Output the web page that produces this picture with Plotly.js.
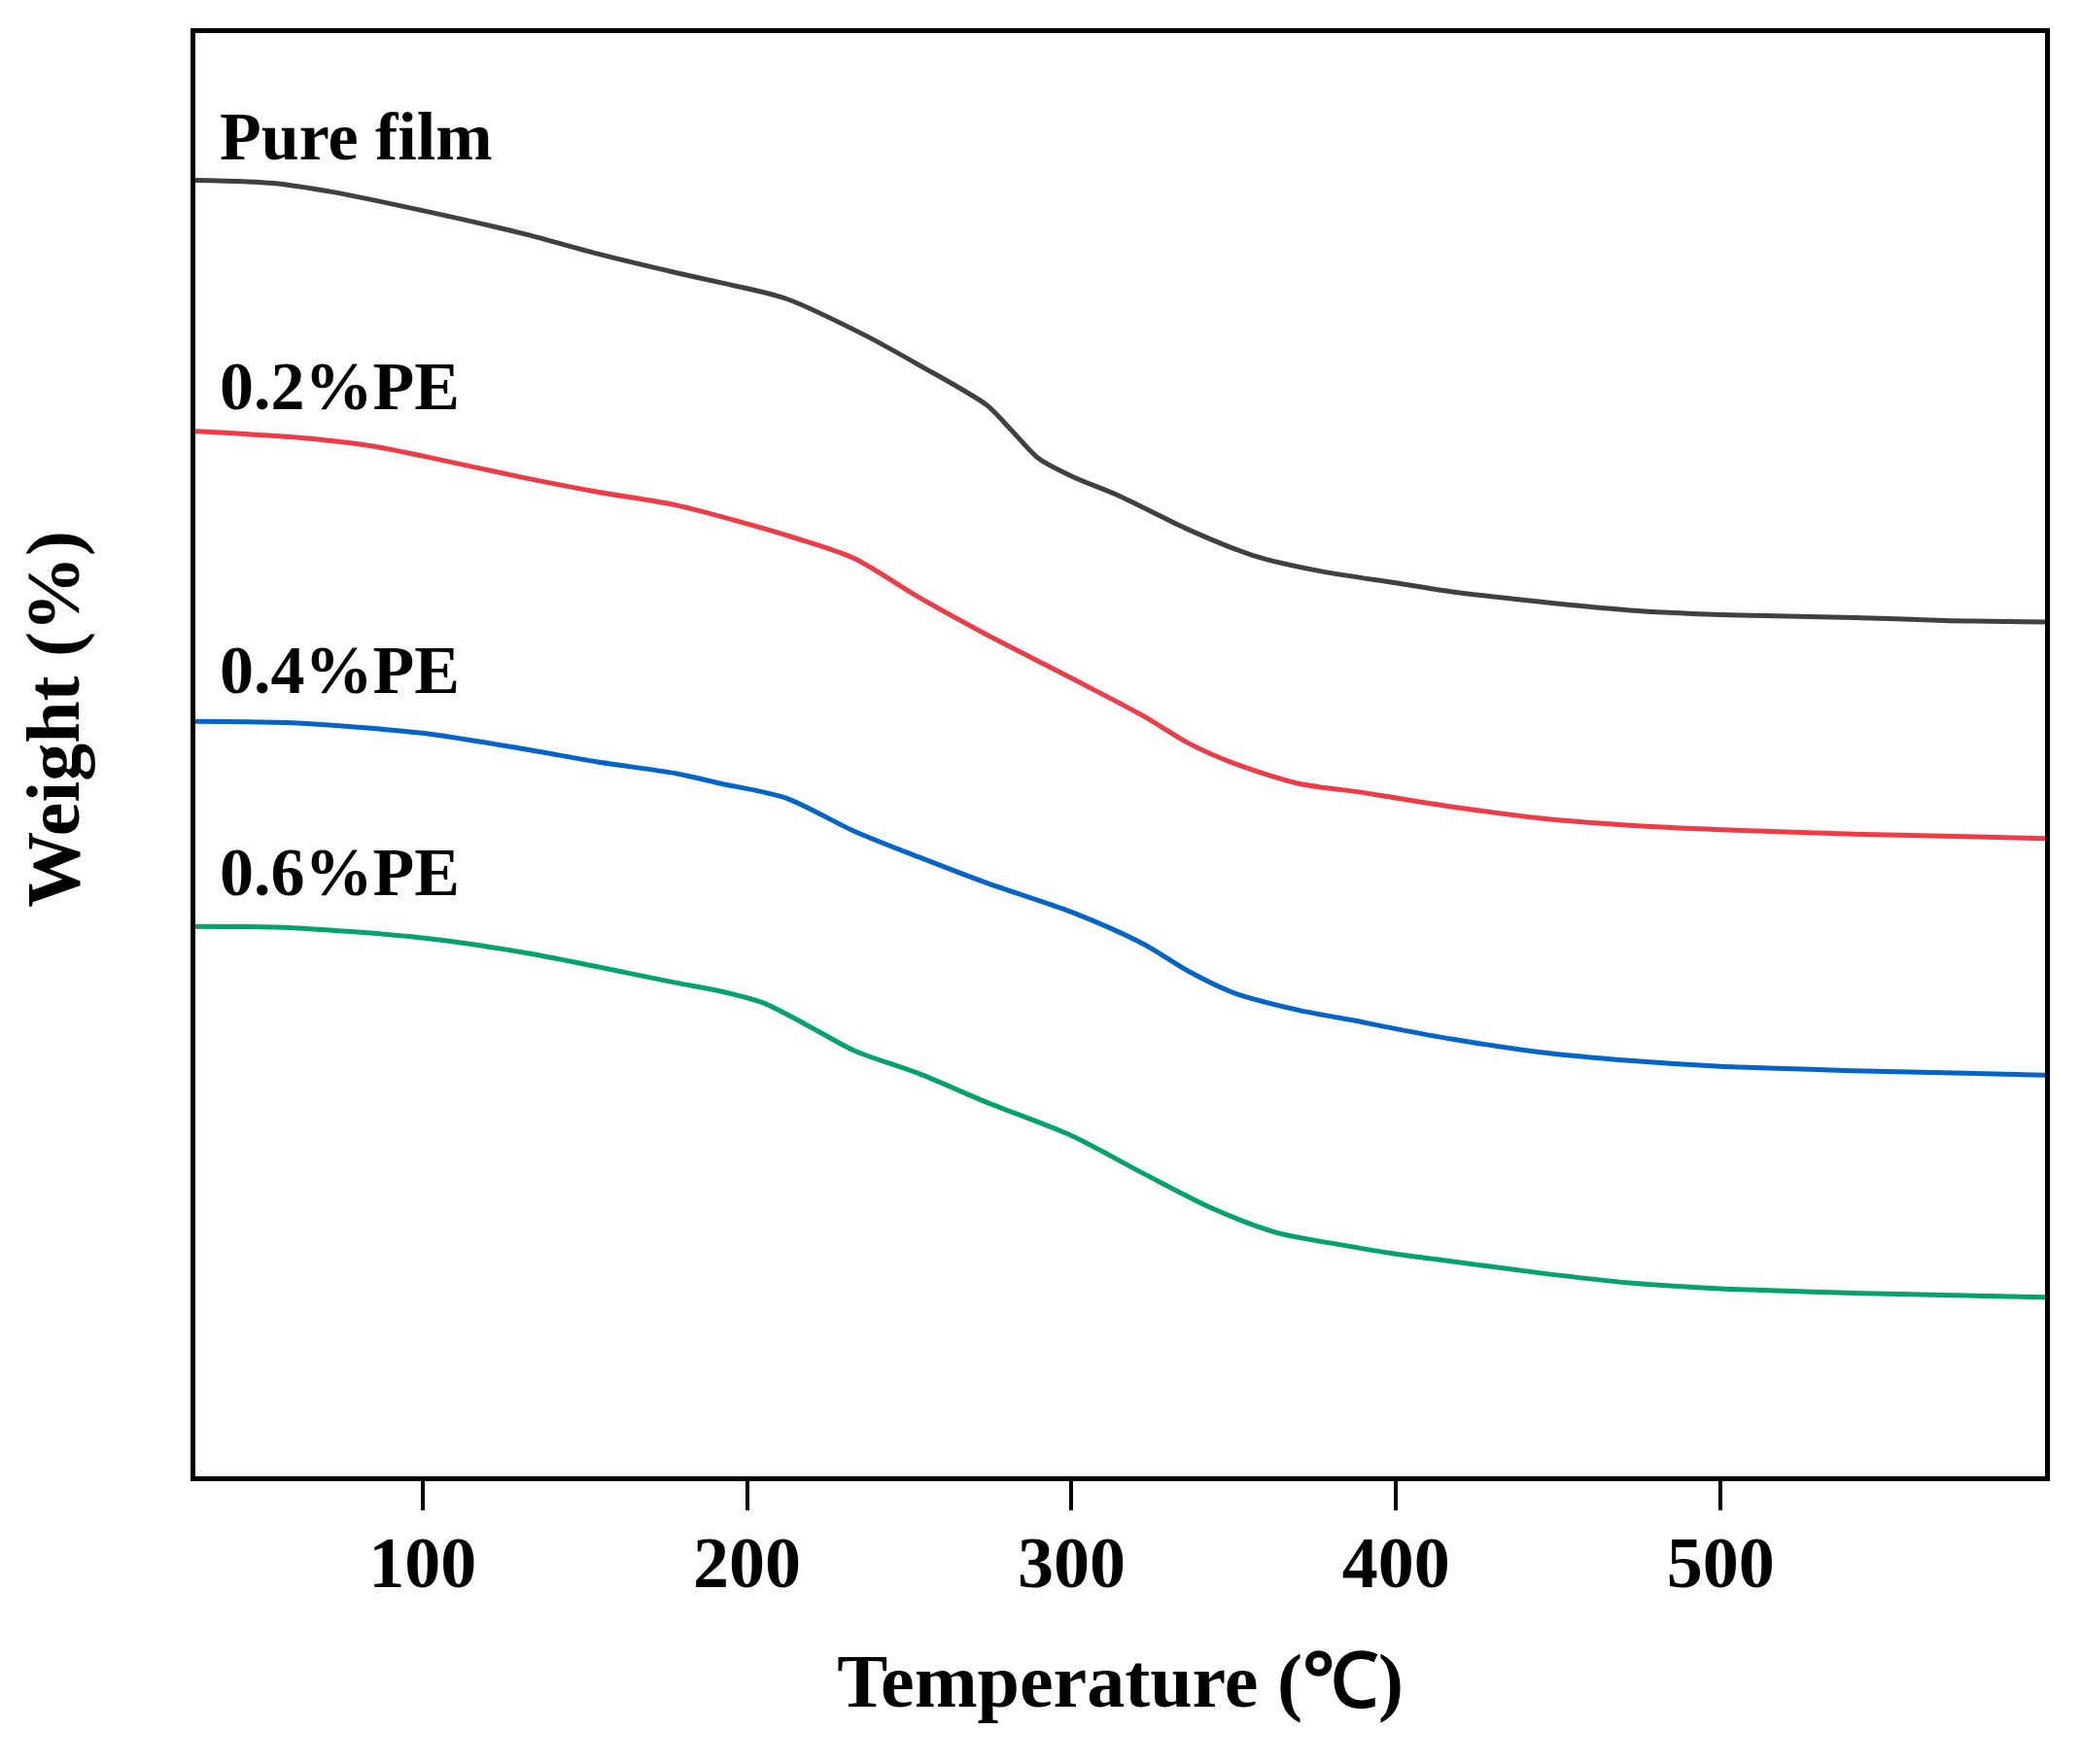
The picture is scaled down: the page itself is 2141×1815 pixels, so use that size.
<!DOCTYPE html>
<html>
<head>
<meta charset="utf-8">
<script src="https://cdn.plot.ly/plotly-3.0.1.min.js"></script>
<style>
  html, body { margin: 0; padding: 0; background: #fff; }
  #plot { width: 2141px; height: 1815px; }
</style>
</head>
<body>
<div id="plot"></div>
<script>
// TGA curves (y is offset weight, no scale shown)
var pureT = [30, 54, 72, 100, 131, 154, 178, 192, 212, 236, 253, 274, 281, 290, 300, 315, 336, 356, 377, 400, 417, 444, 472, 500, 541, 569, 600];
var pureW = [89.8, 89.6, 89.0, 87.7, 86.1, 84.7, 83.4, 82.7, 81.6, 79.1, 77.0, 74.2, 72.6, 70.5, 69.3, 67.9, 65.6, 63.8, 62.7, 61.9, 61.3, 60.6, 60.0, 59.7, 59.5, 59.3, 59.2];

var pe02T = [30, 60, 84, 100, 131, 154, 178, 200, 215, 233, 253, 274, 300, 322, 336, 350, 370, 389, 400, 417, 444, 472, 500, 541, 600];
var pe02W = [72.4, 72.0, 71.4, 70.7, 69.2, 68.2, 67.3, 66.0, 65.0, 63.6, 60.9, 58.3, 55.3, 52.7, 50.8, 49.4, 48.0, 47.4, 47.0, 46.4, 45.6, 45.1, 44.8, 44.5, 44.2];

var pe04T = [30, 60, 100, 131, 154, 178, 192, 212, 233, 253, 274, 300, 322, 336, 350, 370, 389, 400, 417, 444, 472, 500, 541, 600];
var pe04W = [52.3, 52.2, 51.5, 50.4, 49.5, 48.7, 48.0, 47.0, 44.7, 42.9, 41.1, 39.1, 36.9, 35.0, 33.5, 32.3, 31.5, 31.0, 30.3, 29.4, 28.8, 28.4, 28.1, 27.8];

var pe06T = [30, 60, 100, 131, 154, 178, 192, 205, 219, 233, 253, 274, 300, 322, 343, 363, 384, 400, 417, 444, 472, 500, 541, 600];
var pe06W = [38.1, 38.0, 37.3, 36.3, 35.3, 34.2, 33.6, 32.8, 31.2, 29.5, 27.9, 25.9, 23.6, 21.0, 18.6, 16.9, 16.0, 15.4, 14.9, 14.1, 13.4, 13.0, 12.7, 12.4];

var labels = ['Pure film', '0.2%PE', '0.4%PE', '0.6%PE'];
var labelY = [0.901, 0.728, 0.531, 0.391];
var colors = ['#404040', '#ef3b45', '#0064c8', '#00a36c'];
var xTicks = [100, 200, 300, 400, 500];

var serif = 'Liberation Serif, Times New Roman, serif';

function curve(x, y, name, color) {
    return {
        x: x,
        y: y,
        name: name,
        mode: 'lines',
        type: 'scatter',
        line: {color: color, width: 5, shape: 'spline', smoothing: 0.8},
        hoverinfo: 'skip'
    };
}

var data = [
    curve(pureT, pureW, labels[0], colors[0]),
    curve(pe02T, pe02W, labels[1], colors[1]),
    curve(pe04T, pe04W, labels[2], colors[2]),
    curve(pe06T, pe06W, labels[3], colors[3])
];

var annotations = labels.map(function(t, i) {
    return {
        text: t,
        xref: 'paper', yref: 'paper',
        x: 0.012, y: labelY[i],
        xanchor: 'left', yanchor: 'bottom',
        showarrow: false,
        font: {family: serif, size: 70, color: '#000', weight: 'bold'}
    };
});
// y title, sits a bit above the middle of the frame
annotations.push({
    text: 'Weight (%)',
    xref: 'paper', yref: 'paper',
    x: -0.077, y: 0.525,
    xanchor: 'center', yanchor: 'middle',
    textangle: -90,
    showarrow: false,
    font: {family: serif, size: 78, color: '#000', weight: 'bold'}
});

var layout = {
    width: 2141,
    height: 1815,
    margin: {l: 201, r: 37, t: 34, b: 296},
    paper_bgcolor: '#fff',
    plot_bgcolor: '#fff',
    showlegend: false,
    font: {family: serif, color: '#000'},
    xaxis: {
        range: [30, 600],
        tickvals: xTicks,
        ticks: 'outside',
        ticklen: 30,
        tickwidth: 4,
        tickcolor: '#000',
        ticklabelstandoff: -10,
        tickfont: {family: serif, size: 74, color: '#000', weight: 'bold'},
        showline: true,
        linecolor: '#000',
        linewidth: 5,
        mirror: true,
        showgrid: false,
        zeroline: false,
        title: {
            text: 'Temperature (℃)',
            font: {family: serif, size: 78, color: '#000', weight: 'bold'},
            standoff: 55
        }
    },
    yaxis: {
        range: [0, 100],
        showticklabels: false,
        ticks: '',
        showline: true,
        linecolor: '#000',
        linewidth: 5,
        mirror: true,
        showgrid: false,
        zeroline: false
    },
    annotations: annotations
};

Plotly.newPlot('plot', data, layout, {displayModeBar: false, staticPlot: true});
</script>
</body>
</html>
